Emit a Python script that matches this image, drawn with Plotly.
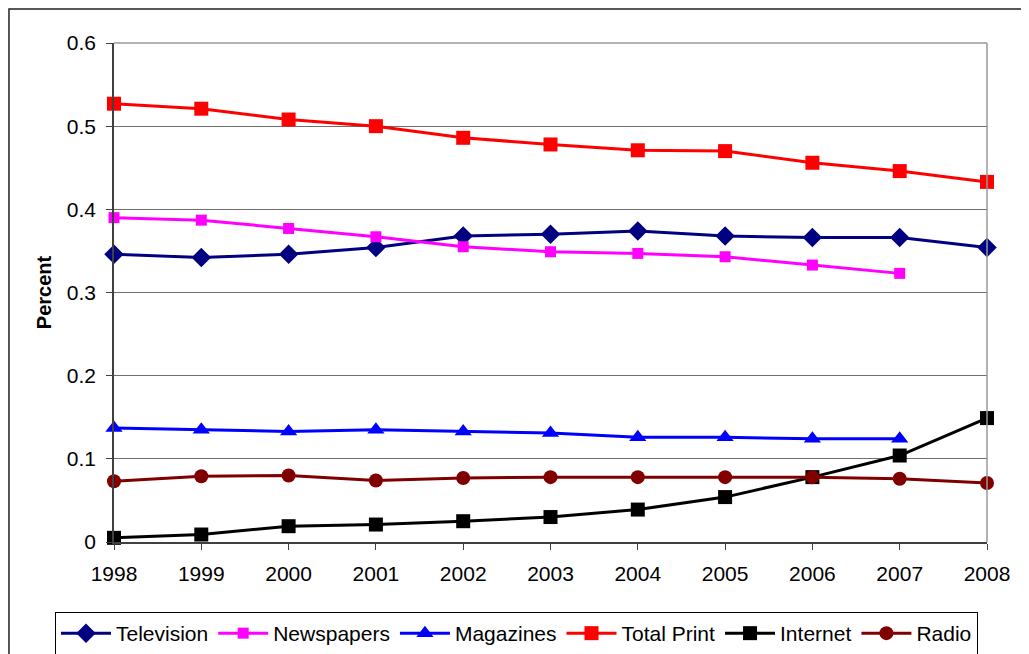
import plotly.graph_objects as go

years = [1998, 1999, 2000, 2001, 2002, 2003, 2004, 2005, 2006, 2007, 2008]
television = [0.346, 0.342, 0.346, 0.354, 0.368, 0.370, 0.374, 0.368, 0.366, 0.366, 0.354]
newspapers = [0.390, 0.387, 0.377, 0.367, 0.355, 0.349, 0.347, 0.343, 0.333, 0.323, None]
magazines = [0.137, 0.135, 0.133, 0.135, 0.133, 0.131, 0.126, 0.126, 0.124, 0.124, None]
total_print = [0.527, 0.521, 0.508, 0.500, 0.486, 0.478, 0.471, 0.470, 0.456, 0.446, 0.433]
internet = [0.005, 0.009, 0.019, 0.021, 0.025, 0.030, 0.039, 0.054, 0.078, 0.104, 0.149]
radio = [0.073, 0.079, 0.080, 0.074, 0.077, 0.078, 0.078, 0.078, 0.078, 0.076, 0.071]
y_ticks = [0, 0.1, 0.2, 0.3, 0.4, 0.5, 0.6]
y_ticklabels = ["0", "0.1", "0.2", "0.3", "0.4", "0.5", "0.6"]

series = [
    ("Television", television, "#000080", "diamond", 15),
    ("Newspapers", newspapers, "#FF00FF", "square", 11),
    ("Magazines", magazines, "#0000FF", "triangle-up", 15),
    ("Total Print", total_print, "#FF0000", "square", 14),
    ("Internet", internet, "#000000", "square", 14),
    ("Radio", radio, "#800000", "circle", 14),
]

fig = go.Figure()
for name, vals, color, sym, size in series:
    fig.add_trace(go.Scatter(
        x=years, y=vals, name=name, mode="lines+markers",
        line=dict(color=color, width=3),
        marker=dict(symbol=sym, size=size, color=color, line=dict(width=0)),
        cliponaxis=False,
    ))

# page body has an 8px margin, so the figure is 8px smaller and shifted
fig.update_layout(
    width=1021, height=646,
    margin=dict(l=106, r=42, t=35, b=112, autoexpand=False),
    paper_bgcolor="white", plot_bgcolor="white",
    font=dict(family="Liberation Sans, Arial, sans-serif", size=21, color="black"),
    showlegend=True,
    legend=dict(
        orientation="h", x=-0.0676, xanchor="left", y=-0.1403, yanchor="top",
        bordercolor="black", borderwidth=1, font=dict(size=21),
        itemwidth=50, tracegroupgap=0,
    ),
    xaxis=dict(
        range=[1998, 2008], tickmode="array", tickvals=years,
        ticktext=[str(y) for y in years], automargin=False,
        showgrid=False, zeroline=False, showline=True, linecolor="#404040", linewidth=1.5,
        ticks="outside", ticklen=6, tickcolor="#404040", ticklabelstandoff=6,
    ),
    yaxis=dict(
        range=[0, 0.6], tickmode="array", tickvals=y_ticks, ticktext=y_ticklabels,
        automargin=False,
        showgrid=True, gridcolor="#6f6f6f", gridwidth=1, zeroline=False,
        showline=True, linecolor="#404040", linewidth=1.5,
        ticks="outside", ticklen=6, tickcolor="#404040", ticklabelstandoff=6,
        title=dict(text="<b>Percent</b>", font=dict(size=20), standoff=10),
    ),
    shapes=[
        dict(type="line", xref="x domain", yref="y domain", x0=1, x1=1, y0=0, y1=1,
             line=dict(color="#999999", width=1.5)),
        dict(type="line", xref="x domain", yref="y domain", x0=0, x1=1, y0=1, y1=1,
             line=dict(color="#999999", width=1.5)),
        dict(type="rect", xref="paper", yref="paper", x0=-0.1203, x1=1.2, y0=-0.3, y1=1.0681,
             line=dict(color="#222222", width=1.5), layer="below"),
    ],
)

fig.write_html("out.html")
